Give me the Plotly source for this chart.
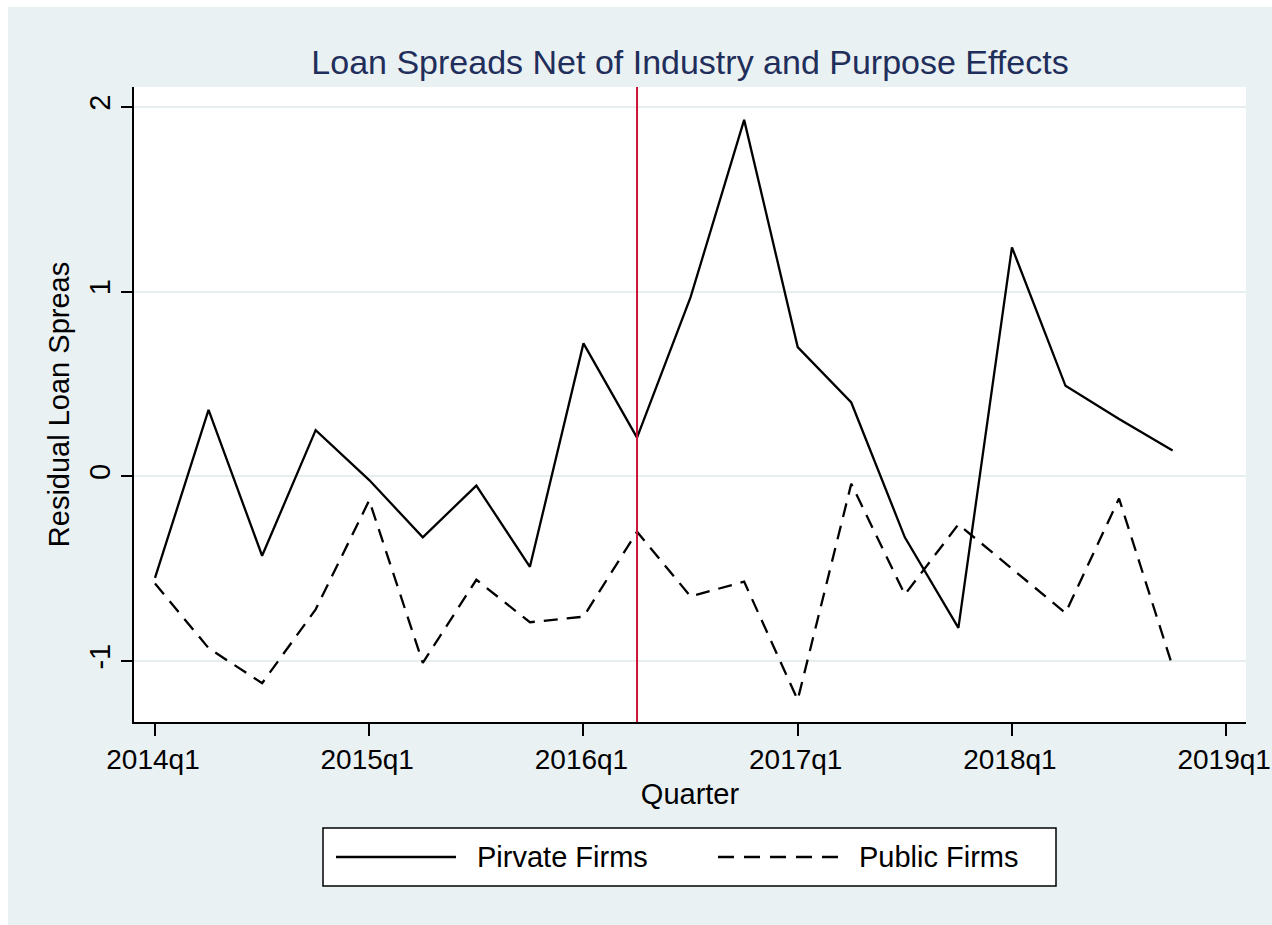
import plotly.graph_objects as go

# ---------------- data ----------------
quarters = ["2014q1", "2014q2", "2014q3", "2014q4",
            "2015q1", "2015q2", "2015q3", "2015q4",
            "2016q1", "2016q2", "2016q3", "2016q4",
            "2017q1", "2017q2", "2017q3", "2017q4",
            "2018q1", "2018q2", "2018q3", "2018q4"]
private_firms = [-0.55, 0.36, -0.43, 0.25, -0.02, -0.33, -0.05, -0.49,
                 0.72, 0.21, 0.97, 1.93, 0.70, 0.40, -0.33, -0.82,
                 1.24, 0.49, 0.31, 0.14]
public_firms = [-0.58, -0.93, -1.12, -0.72, -0.13, -1.01, -0.56, -0.79,
                -0.76, -0.30, -0.65, -0.57, -1.21, -0.04, -0.64, -0.26,
                -0.50, -0.74, -0.12, -1.03]
tick_labels = ["2014q1", "2015q1", "2016q1", "2017q1", "2018q1", "2019q1"]
y_ticks = [-1, 0, 1, 2]
event_quarter = "2016q2"
series_names = ["Pirvate Firms", "Public Firms"]


def qindex(label):
    year, q = label.split("q")
    return (int(year) - 2014) * 4 + int(q) - 1


x_vals = [qindex(q) for q in quarters]

# ---------------- layout geometry ----------------
W, H = 1272, 925
L, R, T, B = 134, W - 1246, 87, H - 722
PW, PH = W - L - R, H - T - B


def xp(px):
    """page x pixel -> paper coordinate"""
    return (px - L) / PW


def yp(py):
    """page y pixel -> paper coordinate"""
    return (H - B - py) / PH


FONT = "Liberation Sans, Arial, Helvetica, sans-serif"
BG = "#EAF1F3"

fig = go.Figure()
fig.add_trace(go.Scatter(x=x_vals, y=private_firms, mode="lines",
                         name=series_names[0],
                         line=dict(color="black", width=2.3),
                         showlegend=False))
fig.add_trace(go.Scatter(x=x_vals, y=public_firms, mode="lines",
                         name=series_names[1],
                         line=dict(color="black", width=2.3, dash="14px,9px"),
                         showlegend=False))

shapes = []
# event line
shapes.append(dict(type="line", xref="x", yref="y domain",
                   x0=qindex(event_quarter), x1=qindex(event_quarter),
                   y0=0, y1=1, line=dict(color="#CC1236", width=2),
                   layer="above"))
# white outer frame strips (left / top)
shapes.append(dict(type="rect", xref="paper", yref="paper",
                   x0=xp(0), x1=xp(8), y0=yp(H), y1=yp(0),
                   fillcolor="white", line=dict(width=0), layer="above"))
shapes.append(dict(type="rect", xref="paper", yref="paper",
                   x0=xp(0), x1=xp(W), y0=yp(7), y1=yp(0),
                   fillcolor="white", line=dict(width=0), layer="above"))
# manual legend
shapes.append(dict(type="rect", xref="paper", yref="paper",
                   x0=xp(323), x1=xp(1056), y0=yp(886), y1=yp(828),
                   fillcolor="white", line=dict(color="black", width=1.5),
                   layer="above"))
ly = yp(857)
shapes.append(dict(type="line", xref="paper", yref="paper",
                   x0=xp(336), x1=xp(456), y0=ly, y1=ly,
                   line=dict(color="black", width=2.3), layer="above"))
shapes.append(dict(type="line", xref="paper", yref="paper",
                   x0=xp(718), x1=xp(839), y0=ly, y1=ly,
                   line=dict(color="black", width=2.3, dash="16px,10px"),
                   layer="above"))

annotations = [
    dict(text=series_names[0], xref="paper", yref="paper", x=xp(475), y=ly,
         xanchor="left", yanchor="middle", showarrow=False,
         font=dict(family=FONT, size=29, color="black")),
    dict(text=series_names[1], xref="paper", yref="paper", x=xp(857), y=ly,
         xanchor="left", yanchor="middle", showarrow=False,
         font=dict(family=FONT, size=29, color="black")),
]

fig.update_layout(
    width=W, height=H,
    margin=dict(l=L, r=R, t=T, b=B, autoexpand=False),
    paper_bgcolor=BG, plot_bgcolor="white",
    font=dict(family=FONT, color="black"),
    title=dict(text="Loan Spreads Net of Industry and Purpose Effects",
               x=0.5, xref="paper", xanchor="center",
               y=1 - 62 / H, yref="container", yanchor="middle",
               font=dict(family=FONT, size=34, color="#1F2E5A")),
    shapes=shapes, annotations=annotations,
    showlegend=False,
)

fig.update_xaxes(
    automargin=False,
    range=[-0.392, 20.37],
    tickvals=[qindex(t) for t in tick_labels], ticktext=tick_labels,
    ticks="outside", ticklen=12, tickwidth=1.5, tickcolor="black",
    ticklabeloverflow="allow", ticklabelshift=-2,
    showline=True, linecolor="black", linewidth=1.5,
    showgrid=False, zeroline=False,
    tickfont=dict(family=FONT, size=28, color="black"),
    title=dict(text="Quarter", font=dict(family=FONT, size=29, color="black"),
               standoff=9),
)
fig.update_yaxes(
    automargin=False,
    range=[-1.330, 2.108],
    tickvals=y_ticks, ticktext=[str(v) for v in y_ticks], tickangle=-90,
    ticks="outside", ticklen=11, tickwidth=1.5, tickcolor="black",
    showline=True, linecolor="black", linewidth=1.5,
    showgrid=True, gridcolor="#E6EEF0", gridwidth=2, zeroline=False,
    tickfont=dict(family=FONT, size=29, color="black"),
    title=dict(text="Residual Loan Spreas",
               font=dict(family=FONT, size=29, color="black"), standoff=6),
)

fig.write_html(
    "out.html",
    config={"displayModeBar": False},
    post_script="document.body.style.margin='0';"
                "document.documentElement.style.overflow='hidden';"
                "document.body.style.overflow='hidden';",
)
